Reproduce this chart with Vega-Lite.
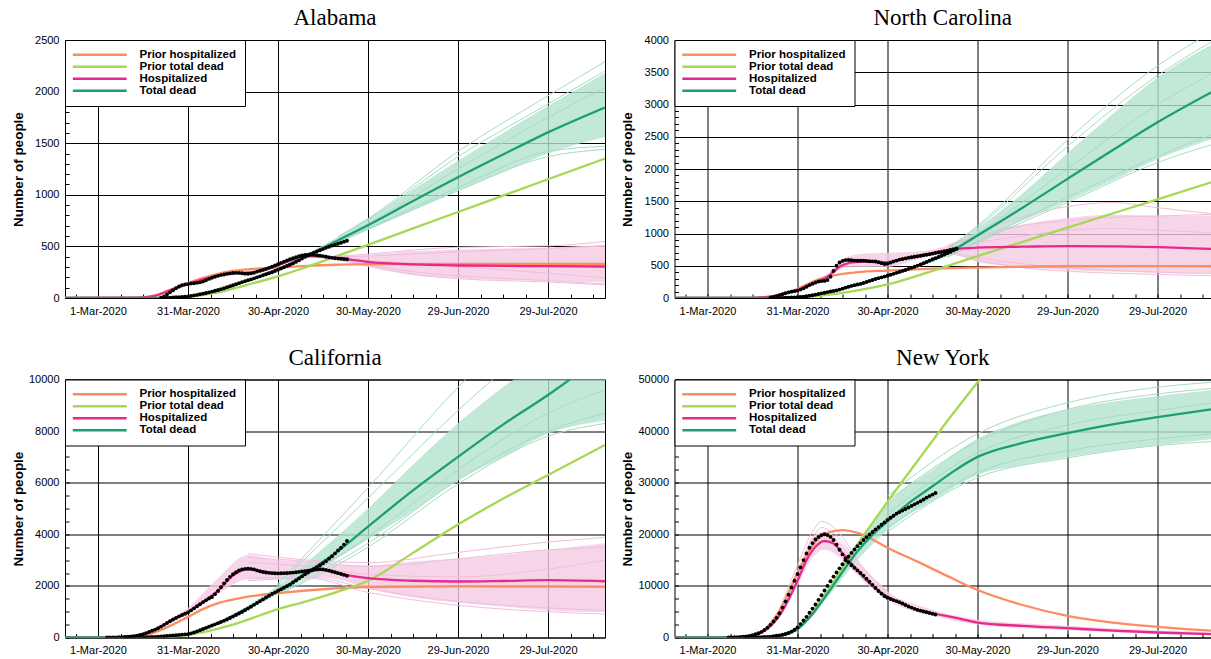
{
"$schema": "https://vega.github.io/schema/vega-lite/v6.json",
"padding": {"left": 10, "top": 6, "right": 0, "bottom": 0},
"columns": 2,
"spacing": {"row": 81.5, "column": 69.5},
"bounds": "flush",
"resolve": {"scale": {"x": "independent", "y": "independent", "color": "independent"}},
"config": {
  "font": "Liberation Sans",
  "view": {"stroke": "black", "strokeWidth": 1},
  "axis": {"domain": false, "grid": true, "gridColor": "black", "gridWidth": 1, "tickColor": "black", "tickSize": -4, "tickWidth": 1, "labelColor": "black", "labelFont": "Liberation Sans", "labelFontSize": 11, "labelPadding": 10, "labelOverlap": false, "labelFlush": false, "titleFont": "Liberation Sans", "titleFontSize": 13.5, "titleFontWeight": "bold", "titleColor": "black"},
  "axisY": {"titleX": -47, "titleY": 129, "titleAlign": "center", "titleBaseline": "middle", "titleAngle": 270},
  "axisX": {"labelPadding": 11},
  "legend": {"orient": "top-left", "offset": 0, "padding": 9, "strokeColor": "black", "fillColor": "white", "cornerRadius": 0, "labelFont": "Liberation Sans", "labelFontSize": 11.5, "labelFontWeight": "bold", "labelColor": "black", "symbolType": "M-10,0H10", "symbolSize": 29, "symbolStrokeWidth": 2.5, "symbolOffset": 20, "labelOffset": 34},
  "title": {"font": "Liberation Serif", "fontSize": 23, "fontWeight": "normal", "color": "black", "offset": 4, "anchor": "middle"}
},
"concat": [
{
  "title": "Alabama",
  "width": 540, "height": 258,
  "encoding": {
    "x": {"field": "d", "type": "temporal", "scale": {"type": "utc", "domain": [1582070400000, 1597622400000]},
      "axis": {"title": null, "values": [1582372800000,1583020800000,1583668800000,1584316800000,1584964800000,1585612800000,1586260800000,1586908800000,1587556800000,1588204800000,1588852800000,1589500800000,1590148800000,1590796800000,1591444800000,1592092800000,1592740800000,1593388800000,1594036800000,1594684800000,1595332800000,1595980800000,1596628800000,1597276800000],
        "labelExpr": "(datum.value - 1583020800000) % 2592000000 == 0 ? utcFormat(datum.value, '%-d-%b-%Y') : ''",
        "gridOpacity": {"condition": {"test": "(datum.value - 1583020800000) % 2592000000 == 0", "value": 1}, "value": 0}}},
    "y": {"field": "v", "type": "quantitative", "scale": {"domain": [0, 2500], "nice": false},
      "axis": {"title": "Number of people", "values": [0,100,200,300,400,500,600,700,800,900,1000,1100,1200,1300,1400,1500,1600,1700,1800,1900,2000,2100,2200,2300,2400,2500],
        "labelExpr": "datum.value % 500 == 0 ? format(datum.value, 'd') : ''",
        "gridOpacity": {"condition": {"test": "datum.value % 500 == 0", "value": 1}, "value": 0}}}
  },
  "layer": [
    {"data": {"name": "alBand"}, "mark": {"type": "area", "clip": true, "interpolate": "monotone", "opacity": 0.8},
     "encoding": {"y2": {"field": "v2"}, "detail": {"field": "g", "type": "nominal"}, "color": {"condition": {"test": "datum.g == 'h'", "value": "#f4cae4"}, "value": "#b3e2cd"}}},
    {"data": {"name": "alSamp"}, "mark": {"type": "line", "clip": true, "interpolate": "monotone", "strokeWidth": 1},
     "encoding": {"detail": [{"field": "g", "type": "nominal"}, {"field": "k", "type": "nominal"}], "color": {"condition": {"test": "datum.g == 'h'", "value": "#f0bedd"}, "value": "#a5dcc3"}}},
    {"data": {"name": "alMean"}, "mark": {"type": "line", "clip": true, "interpolate": "monotone", "strokeWidth": 2.3},
     "encoding": {"color": {"field": "s", "type": "nominal", "scale": {"domain": ["ph", "pd", "h", "m"], "range": ["#fc8d62", "#a6d854", "#e7298a", "#1b9e77"]},
       "legend": {"title": null, "rowPadding": -2, "labelExpr": "datum.value == 'ph' ? 'Prior hospitalized' : datum.value == 'pd' ? 'Prior total dead' : datum.value == 'h' ? 'Hospitalized' : 'Total dead'"}}}},
    {"data": {"name": "alObs"}, "mark": {"type": "point", "filled": true, "color": "black", "size": 15, "opacity": 1, "clip": true}}
  ]
},
{
  "title": "North Carolina",
  "width": 536.5, "height": 258,
  "encoding": {
    "x": {"field": "d", "type": "temporal", "scale": {"type": "utc", "domain": [1582070400000, 1597521600000]},
      "axis": {"title": null, "values": [1582372800000,1583020800000,1583668800000,1584316800000,1584964800000,1585612800000,1586260800000,1586908800000,1587556800000,1588204800000,1588852800000,1589500800000,1590148800000,1590796800000,1591444800000,1592092800000,1592740800000,1593388800000,1594036800000,1594684800000,1595332800000,1595980800000,1596628800000,1597276800000],
        "labelExpr": "(datum.value - 1583020800000) % 2592000000 == 0 ? utcFormat(datum.value, '%-d-%b-%Y') : ''",
        "gridOpacity": {"condition": {"test": "(datum.value - 1583020800000) % 2592000000 == 0", "value": 1}, "value": 0}}},
    "y": {"field": "v", "type": "quantitative", "scale": {"domain": [0, 4000], "nice": false},
      "axis": {"title": "Number of people", "values": [0,100,200,300,400,500,600,700,800,900,1000,1100,1200,1300,1400,1500,1600,1700,1800,1900,2000,2100,2200,2300,2400,2500,2600,2700,2800,2900,3000,3100,3200,3300,3400,3500,3600,3700,3800,3900,4000],
        "labelExpr": "datum.value % 500 == 0 ? format(datum.value, 'd') : ''",
        "gridOpacity": {"condition": {"test": "datum.value % 500 == 0", "value": 1}, "value": 0}}}
  },
  "layer": [
    {"data": {"name": "ncBand"}, "mark": {"type": "area", "clip": true, "interpolate": "monotone", "opacity": 0.8},
     "encoding": {"y2": {"field": "v2"}, "detail": {"field": "g", "type": "nominal"}, "color": {"condition": {"test": "datum.g == 'h'", "value": "#f4cae4"}, "value": "#b3e2cd"}}},
    {"data": {"name": "ncSamp"}, "mark": {"type": "line", "clip": true, "interpolate": "monotone", "strokeWidth": 1},
     "encoding": {"detail": [{"field": "g", "type": "nominal"}, {"field": "k", "type": "nominal"}], "color": {"condition": {"test": "datum.g == 'h'", "value": "#f0bedd"}, "value": "#a5dcc3"}}},
    {"data": {"name": "ncMean"}, "mark": {"type": "line", "clip": true, "interpolate": "monotone", "strokeWidth": 2.3},
     "encoding": {"color": {"field": "s", "type": "nominal", "scale": {"domain": ["ph", "pd", "h", "m"], "range": ["#fc8d62", "#a6d854", "#e7298a", "#1b9e77"]},
       "legend": {"title": null, "rowPadding": -2, "labelExpr": "datum.value == 'ph' ? 'Prior hospitalized' : datum.value == 'pd' ? 'Prior total dead' : datum.value == 'h' ? 'Hospitalized' : 'Total dead'"}}}},
    {"data": {"name": "ncObs"}, "mark": {"type": "point", "filled": true, "color": "black", "size": 15, "opacity": 1, "clip": true}}
  ]
},
{
  "title": "California",
  "width": 540, "height": 258,
  "encoding": {
    "x": {"field": "d", "type": "temporal", "scale": {"type": "utc", "domain": [1582070400000, 1597622400000]},
      "axis": {"title": null, "values": [1582372800000,1583020800000,1583668800000,1584316800000,1584964800000,1585612800000,1586260800000,1586908800000,1587556800000,1588204800000,1588852800000,1589500800000,1590148800000,1590796800000,1591444800000,1592092800000,1592740800000,1593388800000,1594036800000,1594684800000,1595332800000,1595980800000,1596628800000,1597276800000],
        "labelExpr": "(datum.value - 1583020800000) % 2592000000 == 0 ? utcFormat(datum.value, '%-d-%b-%Y') : ''",
        "gridOpacity": {"condition": {"test": "(datum.value - 1583020800000) % 2592000000 == 0", "value": 1}, "value": 0}}},
    "y": {"field": "v", "type": "quantitative", "scale": {"domain": [0, 10000], "nice": false},
      "axis": {"title": "Number of people", "values": [0,500,1000,1500,2000,2500,3000,3500,4000,4500,5000,5500,6000,6500,7000,7500,8000,8500,9000,9500,10000],
        "labelExpr": "datum.value % 2000 == 0 ? format(datum.value, 'd') : ''",
        "gridOpacity": {"condition": {"test": "datum.value % 2000 == 0", "value": 1}, "value": 0}}}
  },
  "layer": [
    {"data": {"name": "caBand"}, "mark": {"type": "area", "clip": true, "interpolate": "monotone", "opacity": 0.8},
     "encoding": {"y2": {"field": "v2"}, "detail": {"field": "g", "type": "nominal"}, "color": {"condition": {"test": "datum.g == 'h'", "value": "#f4cae4"}, "value": "#b3e2cd"}}},
    {"data": {"name": "caSamp"}, "mark": {"type": "line", "clip": true, "interpolate": "monotone", "strokeWidth": 1},
     "encoding": {"detail": [{"field": "g", "type": "nominal"}, {"field": "k", "type": "nominal"}], "color": {"condition": {"test": "datum.g == 'h'", "value": "#f0bedd"}, "value": "#a5dcc3"}}},
    {"data": {"name": "caMean"}, "mark": {"type": "line", "clip": true, "interpolate": "monotone", "strokeWidth": 2.3},
     "encoding": {"color": {"field": "s", "type": "nominal", "scale": {"domain": ["ph", "pd", "h", "m"], "range": ["#fc8d62", "#a6d854", "#e7298a", "#1b9e77"]},
       "legend": {"title": null, "rowPadding": -2, "labelExpr": "datum.value == 'ph' ? 'Prior hospitalized' : datum.value == 'pd' ? 'Prior total dead' : datum.value == 'h' ? 'Hospitalized' : 'Total dead'"}}}},
    {"data": {"name": "caObs"}, "mark": {"type": "point", "filled": true, "color": "black", "size": 15, "opacity": 1, "clip": true}}
  ]
},
{
  "title": "New York",
  "width": 536.5, "height": 258,
  "encoding": {
    "x": {"field": "d", "type": "temporal", "scale": {"type": "utc", "domain": [1582070400000, 1597521600000]},
      "axis": {"title": null, "values": [1582372800000,1583020800000,1583668800000,1584316800000,1584964800000,1585612800000,1586260800000,1586908800000,1587556800000,1588204800000,1588852800000,1589500800000,1590148800000,1590796800000,1591444800000,1592092800000,1592740800000,1593388800000,1594036800000,1594684800000,1595332800000,1595980800000,1596628800000,1597276800000],
        "labelExpr": "(datum.value - 1583020800000) % 2592000000 == 0 ? utcFormat(datum.value, '%-d-%b-%Y') : ''",
        "gridOpacity": {"condition": {"test": "(datum.value - 1583020800000) % 2592000000 == 0", "value": 1}, "value": 0}}},
    "y": {"field": "v", "type": "quantitative", "scale": {"domain": [0, 50000], "nice": false},
      "axis": {"title": "Number of people", "values": [0,2500,5000,7500,10000,12500,15000,17500,20000,22500,25000,27500,30000,32500,35000,37500,40000,42500,45000,47500,50000],
        "labelExpr": "datum.value % 10000 == 0 ? format(datum.value, 'd') : ''",
        "gridOpacity": {"condition": {"test": "datum.value % 10000 == 0", "value": 1}, "value": 0}}}
  },
  "layer": [
    {"data": {"name": "nyBand"}, "mark": {"type": "area", "clip": true, "interpolate": "monotone", "opacity": 0.8},
     "encoding": {"y2": {"field": "v2"}, "detail": {"field": "g", "type": "nominal"}, "color": {"condition": {"test": "datum.g == 'h'", "value": "#f4cae4"}, "value": "#b3e2cd"}}},
    {"data": {"name": "nySamp"}, "mark": {"type": "line", "clip": true, "interpolate": "monotone", "strokeWidth": 1},
     "encoding": {"detail": [{"field": "g", "type": "nominal"}, {"field": "k", "type": "nominal"}], "color": {"condition": {"test": "datum.g == 'h'", "value": "#f0bedd"}, "value": "#a5dcc3"}}},
    {"data": {"name": "nyMean"}, "mark": {"type": "line", "clip": true, "interpolate": "monotone", "strokeWidth": 2.3},
     "encoding": {"color": {"field": "s", "type": "nominal", "scale": {"domain": ["ph", "pd", "h", "m"], "range": ["#fc8d62", "#a6d854", "#e7298a", "#1b9e77"]},
       "legend": {"title": null, "rowPadding": -2, "labelExpr": "datum.value == 'ph' ? 'Prior hospitalized' : datum.value == 'pd' ? 'Prior total dead' : datum.value == 'h' ? 'Hospitalized' : 'Total dead'"}}}},
    {"data": {"name": "nyObs"}, "mark": {"type": "point", "filled": true, "color": "black", "size": 15, "opacity": 1, "clip": true}}
  ]
}
],
"datasets": {
"alMean": [
{"s":"ph","d":"2020-02-19","v":0},{"s":"ph","d":"2020-03-10","v":0},{"s":"ph","d":"2020-03-15","v":5},{"s":"ph","d":"2020-03-20","v":25},{"s":"ph","d":"2020-03-25","v":80},{"s":"ph","d":"2020-03-31","v":145},{"s":"ph","d":"2020-04-05","v":195},{"s":"ph","d":"2020-04-10","v":235},{"s":"ph","d":"2020-04-15","v":262},{"s":"ph","d":"2020-04-20","v":278},{"s":"ph","d":"2020-04-30","v":296},{"s":"ph","d":"2020-05-10","v":312},{"s":"ph","d":"2020-05-20","v":322},{"s":"ph","d":"2020-05-30","v":328},{"s":"ph","d":"2020-06-29","v":330},{"s":"ph","d":"2020-07-29","v":330},{"s":"ph","d":"2020-08-17","v":330},
{"s":"pd","d":"2020-02-19","v":0},{"s":"pd","d":"2020-03-20","v":0},{"s":"pd","d":"2020-03-25","v":4},{"s":"pd","d":"2020-03-31","v":12},{"s":"pd","d":"2020-04-10","v":55},{"s":"pd","d":"2020-04-20","v":130},{"s":"pd","d":"2020-04-30","v":210},{"s":"pd","d":"2020-05-10","v":305},{"s":"pd","d":"2020-05-20","v":410},{"s":"pd","d":"2020-05-30","v":515},{"s":"pd","d":"2020-06-14","v":674},{"s":"pd","d":"2020-06-29","v":833},{"s":"pd","d":"2020-07-14","v":992},{"s":"pd","d":"2020-07-29","v":1151},{"s":"pd","d":"2020-08-17","v":1352},
{"s":"h","d":"2020-02-19","v":0},{"s":"h","d":"2020-03-15","v":3},{"s":"h","d":"2020-03-20","v":20},{"s":"h","d":"2020-03-25","v":75},{"s":"h","d":"2020-03-31","v":135},{"s":"h","d":"2020-04-05","v":180},{"s":"h","d":"2020-04-10","v":220},{"s":"h","d":"2020-04-15","v":242},{"s":"h","d":"2020-04-20","v":245},{"s":"h","d":"2020-04-25","v":268},{"s":"h","d":"2020-04-30","v":318},{"s":"h","d":"2020-05-05","v":372},{"s":"h","d":"2020-05-10","v":405},{"s":"h","d":"2020-05-15","v":402},{"s":"h","d":"2020-05-20","v":388},{"s":"h","d":"2020-05-25","v":368},{"s":"h","d":"2020-05-30","v":350},{"s":"h","d":"2020-06-14","v":325},{"s":"h","d":"2020-06-29","v":315},{"s":"h","d":"2020-07-29","v":308},{"s":"h","d":"2020-08-17","v":305},
{"s":"m","d":"2020-02-19","v":0},{"s":"m","d":"2020-03-20","v":0},{"s":"m","d":"2020-03-25","v":3},{"s":"m","d":"2020-03-31","v":15},{"s":"m","d":"2020-04-10","v":72},{"s":"m","d":"2020-04-20","v":170},{"s":"m","d":"2020-04-30","v":278},{"s":"m","d":"2020-05-10","v":415},{"s":"m","d":"2020-05-20","v":560},{"s":"m","d":"2020-05-30","v":705},{"s":"m","d":"2020-06-14","v":940},{"s":"m","d":"2020-06-29","v":1170},{"s":"m","d":"2020-07-14","v":1390},{"s":"m","d":"2020-07-29","v":1605},{"s":"m","d":"2020-08-17","v":1846}
],
"alBand": [
{"g":"h","d":"2020-03-20","v":15,"v2":28},{"g":"h","d":"2020-03-31","v":122,"v2":150},{"g":"h","d":"2020-04-10","v":208,"v2":235},{"g":"h","d":"2020-04-20","v":232,"v2":262},{"g":"h","d":"2020-04-30","v":305,"v2":335},{"g":"h","d":"2020-05-10","v":390,"v2":425},{"g":"h","d":"2020-05-20","v":368,"v2":408},{"g":"h","d":"2020-05-30","v":300,"v2":420},{"g":"h","d":"2020-06-14","v":220,"v2":455},{"g":"h","d":"2020-06-29","v":190,"v2":470},{"g":"h","d":"2020-07-29","v":165,"v2":490},{"g":"h","d":"2020-08-17","v":150,"v2":515},
{"g":"m","d":"2020-03-31","v":13,"v2":17},{"g":"m","d":"2020-04-10","v":68,"v2":76},{"g":"m","d":"2020-04-20","v":162,"v2":178},{"g":"m","d":"2020-04-30","v":268,"v2":292},{"g":"m","d":"2020-05-10","v":400,"v2":435},{"g":"m","d":"2020-05-20","v":535,"v2":590},{"g":"m","d":"2020-05-30","v":660,"v2":760},{"g":"m","d":"2020-06-14","v":850,"v2":1050},{"g":"m","d":"2020-06-29","v":1040,"v2":1330},{"g":"m","d":"2020-07-14","v":1220,"v2":1600},{"g":"m","d":"2020-07-29","v":1400,"v2":1860},{"g":"m","d":"2020-08-17","v":1560,"v2":2180}
],
"alSamp": [
{"g":"h","k":1,"d":"2020-05-20","v":405},{"g":"h","k":1,"d":"2020-05-30","v":425},{"g":"h","k":1,"d":"2020-06-14","v":465},{"g":"h","k":1,"d":"2020-06-29","v":492},{"g":"h","k":1,"d":"2020-07-29","v":505},{"g":"h","k":1,"d":"2020-08-17","v":548},
{"g":"h","k":2,"d":"2020-05-20","v":398},{"g":"h","k":2,"d":"2020-05-30","v":405},{"g":"h","k":2,"d":"2020-06-14","v":428},{"g":"h","k":2,"d":"2020-06-29","v":448},{"g":"h","k":2,"d":"2020-07-29","v":478},{"g":"h","k":2,"d":"2020-08-17","v":505},
{"g":"h","k":3,"d":"2020-05-20","v":372},{"g":"h","k":3,"d":"2020-05-30","v":325},{"g":"h","k":3,"d":"2020-06-14","v":255},{"g":"h","k":3,"d":"2020-06-29","v":215},{"g":"h","k":3,"d":"2020-07-29","v":168},{"g":"h","k":3,"d":"2020-08-17","v":135},
{"g":"h","k":4,"d":"2020-05-20","v":368},{"g":"h","k":4,"d":"2020-05-30","v":312},{"g":"h","k":4,"d":"2020-06-14","v":232},{"g":"h","k":4,"d":"2020-06-29","v":188},{"g":"h","k":4,"d":"2020-07-29","v":155},{"g":"h","k":4,"d":"2020-08-17","v":128},
{"g":"h","k":5,"d":"2020-05-20","v":385},{"g":"h","k":5,"d":"2020-05-30","v":365},{"g":"h","k":5,"d":"2020-06-14","v":335},{"g":"h","k":5,"d":"2020-06-29","v":305},{"g":"h","k":5,"d":"2020-07-29","v":240},{"g":"h","k":5,"d":"2020-08-17","v":195},
{"g":"m","k":1,"d":"2020-05-20","v":595},{"g":"m","k":1,"d":"2020-05-30","v":770},{"g":"m","k":1,"d":"2020-06-29","v":1420},{"g":"m","k":1,"d":"2020-07-29","v":1960},{"g":"m","k":1,"d":"2020-08-17","v":2290},
{"g":"m","k":2,"d":"2020-05-20","v":590},{"g":"m","k":2,"d":"2020-05-30","v":760},{"g":"m","k":2,"d":"2020-06-29","v":1370},{"g":"m","k":2,"d":"2020-07-29","v":1880},{"g":"m","k":2,"d":"2020-08-17","v":2200},
{"g":"m","k":3,"d":"2020-05-20","v":540},{"g":"m","k":3,"d":"2020-05-30","v":665},{"g":"m","k":3,"d":"2020-06-29","v":1040},{"g":"m","k":3,"d":"2020-07-29","v":1370},{"g":"m","k":3,"d":"2020-08-17","v":1440},
{"g":"m","k":4,"d":"2020-05-20","v":545},{"g":"m","k":4,"d":"2020-05-30","v":675},{"g":"m","k":4,"d":"2020-06-29","v":1070},{"g":"m","k":4,"d":"2020-07-29","v":1420},{"g":"m","k":4,"d":"2020-08-17","v":1470},
{"g":"m","k":5,"d":"2020-05-20","v":570},{"g":"m","k":5,"d":"2020-05-30","v":720},{"g":"m","k":5,"d":"2020-06-29","v":1250},{"g":"m","k":5,"d":"2020-07-29","v":1750},{"g":"m","k":5,"d":"2020-08-17","v":2040}
],
"alObs": [
{"d":"2020-03-22","v":2},{"d":"2020-03-23","v":15},{"d":"2020-03-24","v":35},{"d":"2020-03-25","v":55},{"d":"2020-03-26","v":75},{"d":"2020-03-27","v":95},{"d":"2020-03-28","v":112},{"d":"2020-03-29","v":125},{"d":"2020-03-30","v":132},{"d":"2020-03-31","v":135},
{"d":"2020-04-01","v":140},{"d":"2020-04-02","v":143},{"d":"2020-04-03","v":147},{"d":"2020-04-04","v":152},{"d":"2020-04-05","v":160},{"d":"2020-04-06","v":172},{"d":"2020-04-07","v":185},{"d":"2020-04-08","v":196},{"d":"2020-04-09","v":206},{"d":"2020-04-10","v":215},{"d":"2020-04-11","v":222},{"d":"2020-04-12","v":228},{"d":"2020-04-13","v":234},{"d":"2020-04-14","v":238},{"d":"2020-04-15","v":242},{"d":"2020-04-16","v":244},{"d":"2020-04-17","v":243},{"d":"2020-04-18","v":240},{"d":"2020-04-19","v":236},{"d":"2020-04-20","v":235},{"d":"2020-04-21","v":238},{"d":"2020-04-22","v":245},{"d":"2020-04-23","v":255},{"d":"2020-04-24","v":264},{"d":"2020-04-25","v":272},{"d":"2020-04-26","v":282},{"d":"2020-04-27","v":292},{"d":"2020-04-28","v":303},{"d":"2020-04-29","v":315},{"d":"2020-04-30","v":327},
{"d":"2020-05-01","v":340},{"d":"2020-05-02","v":352},{"d":"2020-05-03","v":364},{"d":"2020-05-04","v":375},{"d":"2020-05-05","v":385},{"d":"2020-05-06","v":395},{"d":"2020-05-07","v":405},{"d":"2020-05-08","v":412},{"d":"2020-05-09","v":417},{"d":"2020-05-10","v":420},{"d":"2020-05-11","v":420},{"d":"2020-05-12","v":418},{"d":"2020-05-13","v":414},{"d":"2020-05-14","v":410},{"d":"2020-05-15","v":406},{"d":"2020-05-16","v":400},{"d":"2020-05-17","v":394},{"d":"2020-05-18","v":389},{"d":"2020-05-19","v":385},{"d":"2020-05-20","v":382},{"d":"2020-05-21","v":380},{"d":"2020-05-22","v":378},{"d":"2020-05-23","v":376},
{"d":"2020-03-24","v":1},{"d":"2020-03-25","v":3},{"d":"2020-03-26","v":5},{"d":"2020-03-27","v":7},{"d":"2020-03-28","v":9},{"d":"2020-03-29","v":11},{"d":"2020-03-30","v":13},{"d":"2020-03-31","v":16},
{"d":"2020-04-01","v":20},{"d":"2020-04-02","v":25},{"d":"2020-04-03","v":30},{"d":"2020-04-04","v":36},{"d":"2020-04-05","v":42},{"d":"2020-04-06","v":48},{"d":"2020-04-07","v":55},{"d":"2020-04-08","v":62},{"d":"2020-04-09","v":70},{"d":"2020-04-10","v":78},{"d":"2020-04-11","v":86},{"d":"2020-04-12","v":94},{"d":"2020-04-13","v":104},{"d":"2020-04-14","v":114},{"d":"2020-04-15","v":124},{"d":"2020-04-16","v":134},{"d":"2020-04-17","v":144},{"d":"2020-04-18","v":154},{"d":"2020-04-19","v":163},{"d":"2020-04-20","v":172},{"d":"2020-04-21","v":180},{"d":"2020-04-22","v":190},{"d":"2020-04-23","v":200},{"d":"2020-04-24","v":210},{"d":"2020-04-25","v":220},{"d":"2020-04-26","v":230},{"d":"2020-04-27","v":240},{"d":"2020-04-28","v":250},{"d":"2020-04-29","v":262},{"d":"2020-04-30","v":274},
{"d":"2020-05-01","v":286},{"d":"2020-05-02","v":298},{"d":"2020-05-03","v":310},{"d":"2020-05-04","v":322},{"d":"2020-05-05","v":335},{"d":"2020-05-06","v":350},{"d":"2020-05-07","v":365},{"d":"2020-05-08","v":382},{"d":"2020-05-09","v":398},{"d":"2020-05-10","v":412},{"d":"2020-05-11","v":426},{"d":"2020-05-12","v":440},{"d":"2020-05-13","v":452},{"d":"2020-05-14","v":463},{"d":"2020-05-15","v":474},{"d":"2020-05-16","v":486},{"d":"2020-05-17","v":497},{"d":"2020-05-18","v":507},{"d":"2020-05-19","v":517},{"d":"2020-05-20","v":526},{"d":"2020-05-21","v":535},{"d":"2020-05-22","v":545},{"d":"2020-05-23","v":555}
],
"ncMean": [
{"s":"ph","d":"2020-02-19","v":0},{"s":"ph","d":"2020-03-15","v":0},{"s":"ph","d":"2020-03-20","v":10},{"s":"ph","d":"2020-03-25","v":50},{"s":"ph","d":"2020-03-31","v":140},{"s":"ph","d":"2020-04-05","v":250},{"s":"ph","d":"2020-04-10","v":330},{"s":"ph","d":"2020-04-15","v":375},{"s":"ph","d":"2020-04-20","v":400},{"s":"ph","d":"2020-04-30","v":425},{"s":"ph","d":"2020-05-15","v":455},{"s":"ph","d":"2020-05-30","v":472},{"s":"ph","d":"2020-06-29","v":492},{"s":"ph","d":"2020-07-29","v":495},{"s":"ph","d":"2020-08-17","v":492},
{"s":"pd","d":"2020-02-19","v":0},{"s":"pd","d":"2020-03-20","v":0},{"s":"pd","d":"2020-03-31","v":10},{"s":"pd","d":"2020-04-10","v":50},{"s":"pd","d":"2020-04-20","v":120},{"s":"pd","d":"2020-04-30","v":210},{"s":"pd","d":"2020-05-15","v":420},{"s":"pd","d":"2020-05-30","v":650},{"s":"pd","d":"2020-06-14","v":870},{"s":"pd","d":"2020-06-29","v":1090},{"s":"pd","d":"2020-07-14","v":1310},{"s":"pd","d":"2020-07-29","v":1530},{"s":"pd","d":"2020-08-17","v":1810},
{"s":"h","d":"2020-02-19","v":0},{"s":"h","d":"2020-03-15","v":2},{"s":"h","d":"2020-03-20","v":12},{"s":"h","d":"2020-03-25","v":50},{"s":"h","d":"2020-03-31","v":125},{"s":"h","d":"2020-04-05","v":220},{"s":"h","d":"2020-04-10","v":330},{"s":"h","d":"2020-04-15","v":510},{"s":"h","d":"2020-04-20","v":560},{"s":"h","d":"2020-04-25","v":562},{"s":"h","d":"2020-04-30","v":555},{"s":"h","d":"2020-05-05","v":600},{"s":"h","d":"2020-05-10","v":645},{"s":"h","d":"2020-05-15","v":700},{"s":"h","d":"2020-05-20","v":745},{"s":"h","d":"2020-05-25","v":770},{"s":"h","d":"2020-05-30","v":782},{"s":"h","d":"2020-06-14","v":795},{"s":"h","d":"2020-06-29","v":805},{"s":"h","d":"2020-07-14","v":800},{"s":"h","d":"2020-07-29","v":790},{"s":"h","d":"2020-08-17","v":760},
{"s":"m","d":"2020-02-19","v":0},{"s":"m","d":"2020-03-20","v":0},{"s":"m","d":"2020-03-25","v":2},{"s":"m","d":"2020-03-31","v":12},{"s":"m","d":"2020-04-10","v":85},{"s":"m","d":"2020-04-20","v":205},{"s":"m","d":"2020-04-30","v":345},{"s":"m","d":"2020-05-10","v":495},{"s":"m","d":"2020-05-20","v":690},{"s":"m","d":"2020-05-30","v":970},{"s":"m","d":"2020-06-14","v":1400},{"s":"m","d":"2020-06-29","v":1847},{"s":"m","d":"2020-07-14","v":2290},{"s":"m","d":"2020-07-29","v":2724},{"s":"m","d":"2020-08-17","v":3215}
],
"ncBand": [
{"g":"h","d":"2020-03-20","v":8,"v2":18},{"g":"h","d":"2020-03-31","v":110,"v2":150},{"g":"h","d":"2020-04-10","v":290,"v2":380},{"g":"h","d":"2020-04-15","v":460,"v2":600},{"g":"h","d":"2020-04-20","v":480,"v2":680},{"g":"h","d":"2020-04-30","v":480,"v2":700},{"g":"h","d":"2020-05-10","v":600,"v2":720},{"g":"h","d":"2020-05-20","v":700,"v2":810},{"g":"h","d":"2020-05-30","v":560,"v2":1000},{"g":"h","d":"2020-06-14","v":480,"v2":1140},{"g":"h","d":"2020-06-29","v":430,"v2":1240},{"g":"h","d":"2020-07-14","v":410,"v2":1290},{"g":"h","d":"2020-07-29","v":390,"v2":1280},{"g":"h","d":"2020-08-17","v":370,"v2":1280},
{"g":"m","d":"2020-03-31","v":10,"v2":14},{"g":"m","d":"2020-04-10","v":80,"v2":92},{"g":"m","d":"2020-04-20","v":195,"v2":218},{"g":"m","d":"2020-04-30","v":330,"v2":362},{"g":"m","d":"2020-05-10","v":475,"v2":520},{"g":"m","d":"2020-05-20","v":650,"v2":740},{"g":"m","d":"2020-05-30","v":880,"v2":1080},{"g":"m","d":"2020-06-14","v":1200,"v2":1620},{"g":"m","d":"2020-06-29","v":1500,"v2":2250},{"g":"m","d":"2020-07-14","v":1820,"v2":2850},{"g":"m","d":"2020-07-29","v":2150,"v2":3420},{"g":"m","d":"2020-08-17","v":2480,"v2":3950}
],
"ncSamp": [
{"g":"h","k":1,"d":"2020-05-20","v":815},{"g":"h","k":1,"d":"2020-05-30","v":1000},{"g":"h","k":1,"d":"2020-06-14","v":1260},{"g":"h","k":1,"d":"2020-06-29","v":1420},{"g":"h","k":1,"d":"2020-07-14","v":1480},{"g":"h","k":1,"d":"2020-07-29","v":1400},{"g":"h","k":1,"d":"2020-08-17","v":1300},
{"g":"h","k":2,"d":"2020-05-20","v":805},{"g":"h","k":2,"d":"2020-05-30","v":960},{"g":"h","k":2,"d":"2020-06-14","v":1120},{"g":"h","k":2,"d":"2020-06-29","v":1200},{"g":"h","k":2,"d":"2020-07-14","v":1250},{"g":"h","k":2,"d":"2020-07-29","v":1270},{"g":"h","k":2,"d":"2020-08-17","v":1300},
{"g":"h","k":3,"d":"2020-05-20","v":705},{"g":"h","k":3,"d":"2020-05-30","v":590},{"g":"h","k":3,"d":"2020-06-14","v":470},{"g":"h","k":3,"d":"2020-06-29","v":415},{"g":"h","k":3,"d":"2020-07-14","v":385},{"g":"h","k":3,"d":"2020-07-29","v":365},{"g":"h","k":3,"d":"2020-08-17","v":345},
{"g":"h","k":4,"d":"2020-05-20","v":712},{"g":"h","k":4,"d":"2020-05-30","v":630},{"g":"h","k":4,"d":"2020-06-14","v":530},{"g":"h","k":4,"d":"2020-06-29","v":465},{"g":"h","k":4,"d":"2020-07-14","v":430},{"g":"h","k":4,"d":"2020-07-29","v":400},{"g":"h","k":4,"d":"2020-08-17","v":380},
{"g":"h","k":5,"d":"2020-05-20","v":770},{"g":"h","k":5,"d":"2020-05-30","v":860},{"g":"h","k":5,"d":"2020-06-14","v":960},{"g":"h","k":5,"d":"2020-06-29","v":1050},{"g":"h","k":5,"d":"2020-07-14","v":1080},{"g":"h","k":5,"d":"2020-07-29","v":1050},{"g":"h","k":5,"d":"2020-08-17","v":1010},
{"g":"m","k":1,"d":"2020-05-20","v":760},{"g":"m","k":1,"d":"2020-05-30","v":1120},{"g":"m","k":1,"d":"2020-06-29","v":2450},{"g":"m","k":1,"d":"2020-07-29","v":3600},{"g":"m","k":1,"d":"2020-08-17","v":4150},
{"g":"m","k":2,"d":"2020-05-20","v":750},{"g":"m","k":2,"d":"2020-05-30","v":1095},{"g":"m","k":2,"d":"2020-06-29","v":2350},{"g":"m","k":2,"d":"2020-07-29","v":3450},{"g":"m","k":2,"d":"2020-08-17","v":4000},
{"g":"m","k":3,"d":"2020-05-20","v":632},{"g":"m","k":3,"d":"2020-05-30","v":860},{"g":"m","k":3,"d":"2020-06-29","v":1480},{"g":"m","k":3,"d":"2020-07-29","v":2100},{"g":"m","k":3,"d":"2020-08-17","v":2390},
{"g":"m","k":4,"d":"2020-05-20","v":640},{"g":"m","k":4,"d":"2020-05-30","v":875},{"g":"m","k":4,"d":"2020-06-29","v":1560},{"g":"m","k":4,"d":"2020-07-29","v":2200},{"g":"m","k":4,"d":"2020-08-17","v":2550},
{"g":"m","k":5,"d":"2020-05-20","v":720},{"g":"m","k":5,"d":"2020-05-30","v":1000},{"g":"m","k":5,"d":"2020-06-29","v":2000},{"g":"m","k":5,"d":"2020-07-29","v":3000},{"g":"m","k":5,"d":"2020-08-17","v":3500}
],
"ncObs": [
{"d":"2020-03-22","v":5},{"d":"2020-03-23","v":15},{"d":"2020-03-24","v":30},{"d":"2020-03-25","v":45},{"d":"2020-03-26","v":60},{"d":"2020-03-27","v":75},{"d":"2020-03-28","v":88},{"d":"2020-03-29","v":98},{"d":"2020-03-30","v":106},{"d":"2020-03-31","v":115},
{"d":"2020-04-01","v":130},{"d":"2020-04-02","v":150},{"d":"2020-04-03","v":175},{"d":"2020-04-04","v":200},{"d":"2020-04-05","v":220},{"d":"2020-04-06","v":240},{"d":"2020-04-07","v":255},{"d":"2020-04-08","v":262},{"d":"2020-04-09","v":265},{"d":"2020-04-10","v":280},{"d":"2020-04-11","v":330},{"d":"2020-04-12","v":420},{"d":"2020-04-13","v":500},{"d":"2020-04-14","v":550},{"d":"2020-04-15","v":575},{"d":"2020-04-16","v":588},{"d":"2020-04-17","v":590},{"d":"2020-04-18","v":585},{"d":"2020-04-19","v":580},{"d":"2020-04-20","v":578},{"d":"2020-04-21","v":577},{"d":"2020-04-22","v":580},{"d":"2020-04-23","v":575},{"d":"2020-04-24","v":570},{"d":"2020-04-25","v":568},{"d":"2020-04-26","v":566},{"d":"2020-04-27","v":555},{"d":"2020-04-28","v":540},{"d":"2020-04-29","v":528},{"d":"2020-04-30","v":530},
{"d":"2020-05-01","v":548},{"d":"2020-05-02","v":565},{"d":"2020-05-03","v":580},{"d":"2020-05-04","v":595},{"d":"2020-05-05","v":605},{"d":"2020-05-06","v":615},{"d":"2020-05-07","v":625},{"d":"2020-05-08","v":632},{"d":"2020-05-09","v":640},{"d":"2020-05-10","v":648},{"d":"2020-05-11","v":655},{"d":"2020-05-12","v":662},{"d":"2020-05-13","v":670},{"d":"2020-05-14","v":678},{"d":"2020-05-15","v":688},{"d":"2020-05-16","v":698},{"d":"2020-05-17","v":705},{"d":"2020-05-18","v":712},{"d":"2020-05-19","v":720},{"d":"2020-05-20","v":730},{"d":"2020-05-21","v":745},{"d":"2020-05-22","v":758},{"d":"2020-05-23","v":770},
{"d":"2020-03-25","v":1},{"d":"2020-03-26","v":2},{"d":"2020-03-27","v":4},{"d":"2020-03-28","v":6},{"d":"2020-03-29","v":8},{"d":"2020-03-30","v":10},{"d":"2020-03-31","v":12},
{"d":"2020-04-01","v":16},{"d":"2020-04-02","v":22},{"d":"2020-04-03","v":28},{"d":"2020-04-04","v":35},{"d":"2020-04-05","v":42},{"d":"2020-04-06","v":52},{"d":"2020-04-07","v":62},{"d":"2020-04-08","v":72},{"d":"2020-04-09","v":82},{"d":"2020-04-10","v":92},{"d":"2020-04-11","v":100},{"d":"2020-04-12","v":108},{"d":"2020-04-13","v":118},{"d":"2020-04-14","v":130},{"d":"2020-04-15","v":145},{"d":"2020-04-16","v":160},{"d":"2020-04-17","v":175},{"d":"2020-04-18","v":188},{"d":"2020-04-19","v":200},{"d":"2020-04-20","v":210},{"d":"2020-04-21","v":218},{"d":"2020-04-22","v":232},{"d":"2020-04-23","v":248},{"d":"2020-04-24","v":265},{"d":"2020-04-25","v":280},{"d":"2020-04-26","v":295},{"d":"2020-04-27","v":308},{"d":"2020-04-28","v":320},{"d":"2020-04-29","v":332},{"d":"2020-04-30","v":345},
{"d":"2020-05-01","v":360},{"d":"2020-05-02","v":375},{"d":"2020-05-03","v":390},{"d":"2020-05-04","v":405},{"d":"2020-05-05","v":420},{"d":"2020-05-06","v":435},{"d":"2020-05-07","v":452},{"d":"2020-05-08","v":468},{"d":"2020-05-09","v":485},{"d":"2020-05-10","v":502},{"d":"2020-05-11","v":520},{"d":"2020-05-12","v":540},{"d":"2020-05-13","v":560},{"d":"2020-05-14","v":580},{"d":"2020-05-15","v":600},{"d":"2020-05-16","v":618},{"d":"2020-05-17","v":636},{"d":"2020-05-18","v":655},{"d":"2020-05-19","v":675},{"d":"2020-05-20","v":695},{"d":"2020-05-21","v":715},{"d":"2020-05-22","v":738},{"d":"2020-05-23","v":760}
],
"caMean": [
{"s":"ph","d":"2020-02-19","v":0},{"s":"ph","d":"2020-03-10","v":0},{"s":"ph","d":"2020-03-15","v":50},{"s":"ph","d":"2020-03-20","v":200},{"s":"ph","d":"2020-03-25","v":450},{"s":"ph","d":"2020-03-31","v":800},{"s":"ph","d":"2020-04-05","v":1100},{"s":"ph","d":"2020-04-10","v":1330},{"s":"ph","d":"2020-04-20","v":1580},{"s":"ph","d":"2020-04-30","v":1720},{"s":"ph","d":"2020-05-15","v":1870},{"s":"ph","d":"2020-05-30","v":1950},{"s":"ph","d":"2020-06-29","v":1980},{"s":"ph","d":"2020-07-29","v":1975},{"s":"ph","d":"2020-08-17","v":1960},
{"s":"pd","d":"2020-02-19","v":0},{"s":"pd","d":"2020-03-20","v":0},{"s":"pd","d":"2020-03-31","v":100},{"s":"pd","d":"2020-04-15","v":500},{"s":"pd","d":"2020-04-30","v":1100},{"s":"pd","d":"2020-05-10","v":1420},{"s":"pd","d":"2020-05-20","v":1780},{"s":"pd","d":"2020-05-30","v":2200},{"s":"pd","d":"2020-06-14","v":3280},{"s":"pd","d":"2020-06-29","v":4380},{"s":"pd","d":"2020-07-14","v":5380},{"s":"pd","d":"2020-07-29","v":6300},{"s":"pd","d":"2020-08-17","v":7460},
{"s":"h","d":"2020-02-19","v":0},{"s":"h","d":"2020-03-05","v":0},{"s":"h","d":"2020-03-10","v":20},{"s":"h","d":"2020-03-15","v":100},{"s":"h","d":"2020-03-20","v":300},{"s":"h","d":"2020-03-25","v":640},{"s":"h","d":"2020-03-31","v":990},{"s":"h","d":"2020-04-05","v":1380},{"s":"h","d":"2020-04-10","v":1820},{"s":"h","d":"2020-04-15","v":2400},{"s":"h","d":"2020-04-20","v":2650},{"s":"h","d":"2020-04-25","v":2560},{"s":"h","d":"2020-04-30","v":2490},{"s":"h","d":"2020-05-05","v":2510},{"s":"h","d":"2020-05-10","v":2590},{"s":"h","d":"2020-05-15","v":2620},{"s":"h","d":"2020-05-20","v":2500},{"s":"h","d":"2020-05-25","v":2380},{"s":"h","d":"2020-05-30","v":2300},{"s":"h","d":"2020-06-14","v":2200},{"s":"h","d":"2020-06-29","v":2170},{"s":"h","d":"2020-07-14","v":2190},{"s":"h","d":"2020-07-29","v":2220},{"s":"h","d":"2020-08-17","v":2180},
{"s":"m","d":"2020-02-19","v":0},{"s":"m","d":"2020-03-15","v":5},{"s":"m","d":"2020-03-20","v":25},{"s":"m","d":"2020-03-25","v":65},{"s":"m","d":"2020-03-31","v":135},{"s":"m","d":"2020-04-10","v":560},{"s":"m","d":"2020-04-20","v":1150},{"s":"m","d":"2020-04-30","v":1800},{"s":"m","d":"2020-05-10","v":2550},{"s":"m","d":"2020-05-20","v":3350},{"s":"m","d":"2020-05-30","v":4300},{"s":"m","d":"2020-06-14","v":5700},{"s":"m","d":"2020-06-29","v":7000},{"s":"m","d":"2020-07-14","v":8250},{"s":"m","d":"2020-07-29","v":9400},{"s":"m","d":"2020-08-17","v":11000}
],
"caBand": [
{"g":"h","d":"2020-03-20","v":280,"v2":340},{"g":"h","d":"2020-03-31","v":900,"v2":1150},{"g":"h","d":"2020-04-10","v":1700,"v2":2300},{"g":"h","d":"2020-04-20","v":2250,"v2":3200},{"g":"h","d":"2020-04-30","v":2250,"v2":3000},{"g":"h","d":"2020-05-10","v":2350,"v2":2950},{"g":"h","d":"2020-05-20","v":2250,"v2":2850},{"g":"h","d":"2020-05-30","v":1900,"v2":2800},{"g":"h","d":"2020-06-14","v":1550,"v2":2950},{"g":"h","d":"2020-06-29","v":1350,"v2":3050},{"g":"h","d":"2020-07-14","v":1200,"v2":3200},{"g":"h","d":"2020-07-29","v":1050,"v2":3400},{"g":"h","d":"2020-08-17","v":980,"v2":3650},
{"g":"m","d":"2020-03-31","v":120,"v2":150},{"g":"m","d":"2020-04-10","v":520,"v2":600},{"g":"m","d":"2020-04-20","v":1080,"v2":1250},{"g":"m","d":"2020-04-30","v":1680,"v2":2020},{"g":"m","d":"2020-05-10","v":2380,"v2":2950},{"g":"m","d":"2020-05-20","v":3080,"v2":3950},{"g":"m","d":"2020-05-30","v":3800,"v2":5000},{"g":"m","d":"2020-06-14","v":4900,"v2":6700},{"g":"m","d":"2020-06-29","v":6100,"v2":8300},{"g":"m","d":"2020-07-14","v":7000,"v2":9700},{"g":"m","d":"2020-07-29","v":7900,"v2":10900},{"g":"m","d":"2020-08-17","v":8400,"v2":12200}
],
"caSamp": [
{"g":"h","k":1,"d":"2020-04-20","v":3250},{"g":"h","k":1,"d":"2020-05-10","v":3000},{"g":"h","k":1,"d":"2020-05-30","v":2900},{"g":"h","k":1,"d":"2020-06-29","v":3300},{"g":"h","k":1,"d":"2020-07-29","v":3700},{"g":"h","k":1,"d":"2020-08-17","v":3880},
{"g":"h","k":2,"d":"2020-04-20","v":3100},{"g":"h","k":2,"d":"2020-05-10","v":2950},{"g":"h","k":2,"d":"2020-05-30","v":2750},{"g":"h","k":2,"d":"2020-06-29","v":3050},{"g":"h","k":2,"d":"2020-07-29","v":3400},{"g":"h","k":2,"d":"2020-08-17","v":3500},
{"g":"h","k":3,"d":"2020-04-20","v":2200},{"g":"h","k":3,"d":"2020-05-10","v":2300},{"g":"h","k":3,"d":"2020-05-30","v":1750},{"g":"h","k":3,"d":"2020-06-29","v":1250},{"g":"h","k":3,"d":"2020-07-29","v":1000},{"g":"h","k":3,"d":"2020-08-17","v":905},
{"g":"h","k":4,"d":"2020-04-20","v":2300},{"g":"h","k":4,"d":"2020-05-10","v":2350},{"g":"h","k":4,"d":"2020-05-30","v":1900},{"g":"h","k":4,"d":"2020-06-29","v":1400},{"g":"h","k":4,"d":"2020-07-29","v":1150},{"g":"h","k":4,"d":"2020-08-17","v":1050},
{"g":"h","k":5,"d":"2020-04-20","v":2900},{"g":"h","k":5,"d":"2020-05-10","v":2750},{"g":"h","k":5,"d":"2020-05-30","v":2450},{"g":"h","k":5,"d":"2020-06-29","v":2350},{"g":"h","k":5,"d":"2020-07-29","v":2650},{"g":"h","k":5,"d":"2020-08-17","v":3000},
{"g":"m","k":1,"d":"2020-04-30","v":2100},{"g":"m","k":1,"d":"2020-05-30","v":5800},{"g":"m","k":1,"d":"2020-06-29","v":9700},{"g":"m","k":1,"d":"2020-07-29","v":13000},{"g":"m","k":1,"d":"2020-08-17","v":15000},
{"g":"m","k":2,"d":"2020-04-30","v":2050},{"g":"m","k":2,"d":"2020-05-30","v":5400},{"g":"m","k":2,"d":"2020-06-29","v":8800},{"g":"m","k":2,"d":"2020-07-29","v":11800},{"g":"m","k":2,"d":"2020-08-17","v":13500},
{"g":"m","k":3,"d":"2020-04-30","v":1650},{"g":"m","k":3,"d":"2020-05-30","v":3500},{"g":"m","k":3,"d":"2020-06-29","v":5950},{"g":"m","k":3,"d":"2020-07-29","v":7800},{"g":"m","k":3,"d":"2020-08-17","v":8300},
{"g":"m","k":4,"d":"2020-04-30","v":1680},{"g":"m","k":4,"d":"2020-05-30","v":3650},{"g":"m","k":4,"d":"2020-06-29","v":6100},{"g":"m","k":4,"d":"2020-07-29","v":8000},{"g":"m","k":4,"d":"2020-08-17","v":8700},
{"g":"m","k":5,"d":"2020-04-30","v":1720},{"g":"m","k":5,"d":"2020-05-30","v":3900},{"g":"m","k":5,"d":"2020-06-29","v":6500},{"g":"m","k":5,"d":"2020-07-29","v":8700},{"g":"m","k":5,"d":"2020-08-17","v":9600}
],
"caObs": [
{"d":"2020-03-04","v":0},{"d":"2020-03-05","v":0},{"d":"2020-03-06","v":0},{"d":"2020-03-07","v":5},{"d":"2020-03-08","v":10},{"d":"2020-03-09","v":15},{"d":"2020-03-10","v":20},{"d":"2020-03-11","v":30},{"d":"2020-03-12","v":40},{"d":"2020-03-13","v":55},{"d":"2020-03-14","v":75},{"d":"2020-03-15","v":100},{"d":"2020-03-16","v":130},{"d":"2020-03-17","v":170},{"d":"2020-03-18","v":215},{"d":"2020-03-19","v":260},{"d":"2020-03-20","v":305},{"d":"2020-03-21","v":360},{"d":"2020-03-22","v":420},{"d":"2020-03-23","v":490},{"d":"2020-03-24","v":560},{"d":"2020-03-25","v":630},{"d":"2020-03-26","v":700},{"d":"2020-03-27","v":760},{"d":"2020-03-28","v":820},{"d":"2020-03-29","v":870},{"d":"2020-03-30","v":920},{"d":"2020-03-31","v":970},
{"d":"2020-04-01","v":1050},{"d":"2020-04-02","v":1130},{"d":"2020-04-03","v":1210},{"d":"2020-04-04","v":1290},{"d":"2020-04-05","v":1370},{"d":"2020-04-06","v":1440},{"d":"2020-04-07","v":1510},{"d":"2020-04-08","v":1570},{"d":"2020-04-09","v":1680},{"d":"2020-04-10","v":1800},{"d":"2020-04-11","v":1950},{"d":"2020-04-12","v":2100},{"d":"2020-04-13","v":2230},{"d":"2020-04-14","v":2350},{"d":"2020-04-15","v":2450},{"d":"2020-04-16","v":2530},{"d":"2020-04-17","v":2600},{"d":"2020-04-18","v":2640},{"d":"2020-04-19","v":2660},{"d":"2020-04-20","v":2665},{"d":"2020-04-21","v":2660},{"d":"2020-04-22","v":2640},{"d":"2020-04-23","v":2600},{"d":"2020-04-24","v":2570},{"d":"2020-04-25","v":2540},{"d":"2020-04-26","v":2520},{"d":"2020-04-27","v":2505},{"d":"2020-04-28","v":2495},{"d":"2020-04-29","v":2490},{"d":"2020-04-30","v":2485},
{"d":"2020-05-01","v":2490},{"d":"2020-05-02","v":2495},{"d":"2020-05-03","v":2500},{"d":"2020-05-04","v":2505},{"d":"2020-05-05","v":2515},{"d":"2020-05-06","v":2530},{"d":"2020-05-07","v":2545},{"d":"2020-05-08","v":2560},{"d":"2020-05-09","v":2575},{"d":"2020-05-10","v":2590},{"d":"2020-05-11","v":2610},{"d":"2020-05-12","v":2625},{"d":"2020-05-13","v":2640},{"d":"2020-05-14","v":2650},{"d":"2020-05-15","v":2640},{"d":"2020-05-16","v":2620},{"d":"2020-05-17","v":2590},{"d":"2020-05-18","v":2560},{"d":"2020-05-19","v":2530},{"d":"2020-05-20","v":2495},{"d":"2020-05-21","v":2460},{"d":"2020-05-22","v":2425},{"d":"2020-05-23","v":2390},
{"d":"2020-03-10","v":1},{"d":"2020-03-11","v":2},{"d":"2020-03-12","v":3},{"d":"2020-03-13","v":4},{"d":"2020-03-14","v":5},{"d":"2020-03-15","v":6},{"d":"2020-03-16","v":8},{"d":"2020-03-17","v":11},{"d":"2020-03-18","v":15},{"d":"2020-03-19","v":19},{"d":"2020-03-20","v":24},{"d":"2020-03-21","v":30},{"d":"2020-03-22","v":38},{"d":"2020-03-23","v":48},{"d":"2020-03-24","v":58},{"d":"2020-03-25","v":68},{"d":"2020-03-26","v":80},{"d":"2020-03-27","v":92},{"d":"2020-03-28","v":102},{"d":"2020-03-29","v":112},{"d":"2020-03-30","v":120},{"d":"2020-03-31","v":130},
{"d":"2020-04-01","v":160},{"d":"2020-04-02","v":195},{"d":"2020-04-03","v":235},{"d":"2020-04-04","v":280},{"d":"2020-04-05","v":330},{"d":"2020-04-06","v":375},{"d":"2020-04-07","v":420},{"d":"2020-04-08","v":465},{"d":"2020-04-09","v":510},{"d":"2020-04-10","v":555},{"d":"2020-04-11","v":600},{"d":"2020-04-12","v":645},{"d":"2020-04-13","v":700},{"d":"2020-04-14","v":755},{"d":"2020-04-15","v":810},{"d":"2020-04-16","v":870},{"d":"2020-04-17","v":930},{"d":"2020-04-18","v":990},{"d":"2020-04-19","v":1055},{"d":"2020-04-20","v":1120},{"d":"2020-04-21","v":1190},{"d":"2020-04-22","v":1265},{"d":"2020-04-23","v":1340},{"d":"2020-04-24","v":1410},{"d":"2020-04-25","v":1480},{"d":"2020-04-26","v":1550},{"d":"2020-04-27","v":1620},{"d":"2020-04-28","v":1690},{"d":"2020-04-29","v":1750},{"d":"2020-04-30","v":1810},
{"d":"2020-05-01","v":1870},{"d":"2020-05-02","v":1930},{"d":"2020-05-03","v":1990},{"d":"2020-05-04","v":2050},{"d":"2020-05-05","v":2130},{"d":"2020-05-06","v":2210},{"d":"2020-05-07","v":2290},{"d":"2020-05-08","v":2370},{"d":"2020-05-09","v":2450},{"d":"2020-05-10","v":2520},{"d":"2020-05-11","v":2590},{"d":"2020-05-12","v":2660},{"d":"2020-05-13","v":2730},{"d":"2020-05-14","v":2800},{"d":"2020-05-15","v":2880},{"d":"2020-05-16","v":2960},{"d":"2020-05-17","v":3050},{"d":"2020-05-18","v":3150},{"d":"2020-05-19","v":3260},{"d":"2020-05-20","v":3370},{"d":"2020-05-21","v":3480},{"d":"2020-05-22","v":3600},{"d":"2020-05-23","v":3740}
],
"nyMean": [
{"s":"ph","d":"2020-02-19","v":0},{"s":"ph","d":"2020-03-10","v":0},{"s":"ph","d":"2020-03-15","v":300},{"s":"ph","d":"2020-03-20","v":1500},{"s":"ph","d":"2020-03-25","v":5200},{"s":"ph","d":"2020-03-31","v":12500},{"s":"ph","d":"2020-04-05","v":17800},{"s":"ph","d":"2020-04-10","v":20300},{"s":"ph","d":"2020-04-15","v":20800},{"s":"ph","d":"2020-04-20","v":20300},{"s":"ph","d":"2020-04-25","v":19000},{"s":"ph","d":"2020-04-30","v":17400},{"s":"ph","d":"2020-05-10","v":14700},{"s":"ph","d":"2020-05-20","v":11900},{"s":"ph","d":"2020-05-30","v":9200},{"s":"ph","d":"2020-06-14","v":6300},{"s":"ph","d":"2020-06-29","v":4200},{"s":"ph","d":"2020-07-14","v":2900},{"s":"ph","d":"2020-07-29","v":2070},{"s":"ph","d":"2020-08-17","v":1290},
{"s":"pd","d":"2020-02-19","v":0},{"s":"pd","d":"2020-03-15","v":0},{"s":"pd","d":"2020-03-20","v":50},{"s":"pd","d":"2020-03-25","v":400},{"s":"pd","d":"2020-03-31","v":2000},{"s":"pd","d":"2020-04-05","v":5000},{"s":"pd","d":"2020-04-10","v":9000},{"s":"pd","d":"2020-04-15","v":13500},{"s":"pd","d":"2020-04-20","v":18000},{"s":"pd","d":"2020-04-25","v":22200},{"s":"pd","d":"2020-04-30","v":26300},{"s":"pd","d":"2020-05-10","v":34200},{"s":"pd","d":"2020-05-20","v":42000},{"s":"pd","d":"2020-05-31","v":50200},
{"s":"h","d":"2020-02-19","v":0},{"s":"h","d":"2020-03-10","v":0},{"s":"h","d":"2020-03-15","v":250},{"s":"h","d":"2020-03-20","v":1300},{"s":"h","d":"2020-03-25","v":4300},{"s":"h","d":"2020-03-31","v":11000},{"s":"h","d":"2020-04-03","v":15000},{"s":"h","d":"2020-04-06","v":17600},{"s":"h","d":"2020-04-09","v":18700},{"s":"h","d":"2020-04-12","v":18200},{"s":"h","d":"2020-04-15","v":16300},{"s":"h","d":"2020-04-20","v":13000},{"s":"h","d":"2020-04-25","v":10000},{"s":"h","d":"2020-04-30","v":7900},{"s":"h","d":"2020-05-05","v":6500},{"s":"h","d":"2020-05-10","v":5400},{"s":"h","d":"2020-05-15","v":4700},{"s":"h","d":"2020-05-22","v":3900},{"s":"h","d":"2020-05-30","v":2900},{"s":"h","d":"2020-06-14","v":2250},{"s":"h","d":"2020-06-29","v":1800},{"s":"h","d":"2020-07-14","v":1350},{"s":"h","d":"2020-07-29","v":970},{"s":"h","d":"2020-08-17","v":650},
{"s":"m","d":"2020-02-19","v":0},{"s":"m","d":"2020-03-15","v":0},{"s":"m","d":"2020-03-20","v":30},{"s":"m","d":"2020-03-25","v":300},{"s":"m","d":"2020-03-31","v":1600},{"s":"m","d":"2020-04-05","v":4500},{"s":"m","d":"2020-04-10","v":8500},{"s":"m","d":"2020-04-15","v":12700},{"s":"m","d":"2020-04-20","v":16700},{"s":"m","d":"2020-04-25","v":19900},{"s":"m","d":"2020-04-30","v":22500},{"s":"m","d":"2020-05-07","v":26000},{"s":"m","d":"2020-05-15","v":29300},{"s":"m","d":"2020-05-22","v":32200},{"s":"m","d":"2020-05-30","v":35000},{"s":"m","d":"2020-06-14","v":37700},{"s":"m","d":"2020-06-29","v":39600},{"s":"m","d":"2020-07-14","v":41300},{"s":"m","d":"2020-07-29","v":42700},{"s":"m","d":"2020-08-17","v":44300}
],
"nyBand": [
{"g":"h","d":"2020-03-15","v":200,"v2":320},{"g":"h","d":"2020-03-20","v":1100,"v2":1600},{"g":"h","d":"2020-03-25","v":3800,"v2":5000},{"g":"h","d":"2020-03-31","v":10000,"v2":12500},{"g":"h","d":"2020-04-05","v":15500,"v2":19500},{"g":"h","d":"2020-04-09","v":17000,"v2":20500},{"g":"h","d":"2020-04-15","v":15000,"v2":18000},{"g":"h","d":"2020-04-20","v":12000,"v2":14500},{"g":"h","d":"2020-04-30","v":7200,"v2":8900},{"g":"h","d":"2020-05-15","v":4200,"v2":5400},{"g":"h","d":"2020-05-30","v":2500,"v2":3500},{"g":"h","d":"2020-06-29","v":1400,"v2":2300},{"g":"h","d":"2020-07-29","v":700,"v2":1400},{"g":"h","d":"2020-08-17","v":450,"v2":1000},
{"g":"m","d":"2020-03-31","v":1400,"v2":1900},{"g":"m","d":"2020-04-10","v":7800,"v2":9500},{"g":"m","d":"2020-04-20","v":15000,"v2":18500},{"g":"m","d":"2020-04-30","v":20800,"v2":26000},{"g":"m","d":"2020-05-15","v":26500,"v2":32500},{"g":"m","d":"2020-05-30","v":31500,"v2":38500},{"g":"m","d":"2020-06-14","v":33500,"v2":42000},{"g":"m","d":"2020-06-29","v":35000,"v2":44200},{"g":"m","d":"2020-07-14","v":36300,"v2":45700},{"g":"m","d":"2020-07-29","v":37300,"v2":46800},{"g":"m","d":"2020-08-17","v":38500,"v2":48000}
],
"nySamp": [
{"g":"h","k":1,"d":"2020-03-25","v":5500},{"g":"h","k":1,"d":"2020-03-31","v":14000},{"g":"h","k":1,"d":"2020-04-05","v":20500},{"g":"h","k":1,"d":"2020-04-08","v":22500},{"g":"h","k":1,"d":"2020-04-15","v":19500},{"g":"h","k":1,"d":"2020-04-20","v":15000},{"g":"h","k":1,"d":"2020-04-30","v":9000},
{"g":"h","k":2,"d":"2020-03-25","v":4800},{"g":"h","k":2,"d":"2020-03-31","v":12800},{"g":"h","k":2,"d":"2020-04-05","v":19200},{"g":"h","k":2,"d":"2020-04-08","v":21300},{"g":"h","k":2,"d":"2020-04-15","v":18500},{"g":"h","k":2,"d":"2020-04-20","v":14600},{"g":"h","k":2,"d":"2020-04-30","v":8800},
{"g":"m","k":1,"d":"2020-04-30","v":27500},{"g":"m","k":1,"d":"2020-05-30","v":39500},{"g":"m","k":1,"d":"2020-06-29","v":45500},{"g":"m","k":1,"d":"2020-07-29","v":48500},{"g":"m","k":1,"d":"2020-08-17","v":49500},
{"g":"m","k":2,"d":"2020-04-30","v":26500},{"g":"m","k":2,"d":"2020-05-30","v":38000},{"g":"m","k":2,"d":"2020-06-29","v":44200},{"g":"m","k":2,"d":"2020-07-29","v":47200},{"g":"m","k":2,"d":"2020-08-17","v":48300},
{"g":"m","k":3,"d":"2020-04-30","v":20500},{"g":"m","k":3,"d":"2020-05-30","v":31000},{"g":"m","k":3,"d":"2020-06-29","v":34800},{"g":"m","k":3,"d":"2020-07-29","v":37200},{"g":"m","k":3,"d":"2020-08-17","v":38000},
{"g":"m","k":4,"d":"2020-04-30","v":21200},{"g":"m","k":4,"d":"2020-05-30","v":32000},{"g":"m","k":4,"d":"2020-06-29","v":36200},{"g":"m","k":4,"d":"2020-07-29","v":38500},{"g":"m","k":4,"d":"2020-08-17","v":39500},
{"g":"m","k":5,"d":"2020-04-30","v":24000},{"g":"m","k":5,"d":"2020-05-30","v":35800},{"g":"m","k":5,"d":"2020-06-29","v":41200},{"g":"m","k":5,"d":"2020-07-29","v":44000},{"g":"m","k":5,"d":"2020-08-17","v":45500}
],
"nyObs": [
{"d":"2020-03-08","v":0},{"d":"2020-03-09","v":20},{"d":"2020-03-10","v":40},{"d":"2020-03-11","v":70},{"d":"2020-03-12","v":100},{"d":"2020-03-13","v":150},{"d":"2020-03-14","v":220},{"d":"2020-03-15","v":320},{"d":"2020-03-16","v":450},{"d":"2020-03-17","v":620},{"d":"2020-03-18","v":830},{"d":"2020-03-19","v":1100},{"d":"2020-03-20","v":1450},{"d":"2020-03-21","v":1900},{"d":"2020-03-22","v":2450},{"d":"2020-03-23","v":3100},{"d":"2020-03-24","v":3800},{"d":"2020-03-25","v":4700},{"d":"2020-03-26","v":5800},{"d":"2020-03-27","v":7000},{"d":"2020-03-28","v":8300},{"d":"2020-03-29","v":9700},{"d":"2020-03-30","v":11000},{"d":"2020-03-31","v":12300},
{"d":"2020-04-01","v":13600},{"d":"2020-04-02","v":15000},{"d":"2020-04-03","v":16300},{"d":"2020-04-04","v":17400},{"d":"2020-04-05","v":18300},{"d":"2020-04-06","v":19000},{"d":"2020-04-07","v":19500},{"d":"2020-04-08","v":19850},{"d":"2020-04-09","v":20000},{"d":"2020-04-10","v":19850},{"d":"2020-04-11","v":19500},{"d":"2020-04-12","v":18900},{"d":"2020-04-13","v":18000},{"d":"2020-04-14","v":17000},{"d":"2020-04-15","v":16100},{"d":"2020-04-16","v":15300},{"d":"2020-04-17","v":14600},{"d":"2020-04-18","v":14000},{"d":"2020-04-19","v":13500},{"d":"2020-04-20","v":13000},{"d":"2020-04-21","v":12500},{"d":"2020-04-22","v":12000},{"d":"2020-04-23","v":11400},{"d":"2020-04-24","v":10800},{"d":"2020-04-25","v":10200},{"d":"2020-04-26","v":9600},{"d":"2020-04-27","v":9000},{"d":"2020-04-28","v":8500},{"d":"2020-04-29","v":8000},{"d":"2020-04-30","v":7700},
{"d":"2020-05-01","v":7450},{"d":"2020-05-02","v":7250},{"d":"2020-05-03","v":7050},{"d":"2020-05-04","v":6850},{"d":"2020-05-05","v":6600},{"d":"2020-05-06","v":6300},{"d":"2020-05-07","v":6000},{"d":"2020-05-08","v":5800},{"d":"2020-05-09","v":5550},{"d":"2020-05-10","v":5350},{"d":"2020-05-11","v":5200},{"d":"2020-05-12","v":5050},{"d":"2020-05-13","v":4900},{"d":"2020-05-14","v":4750},{"d":"2020-05-15","v":4600},{"d":"2020-05-16","v":4450},
{"d":"2020-03-14","v":0},{"d":"2020-03-15","v":10},{"d":"2020-03-16","v":20},{"d":"2020-03-17","v":30},{"d":"2020-03-18","v":45},{"d":"2020-03-19","v":65},{"d":"2020-03-20","v":95},{"d":"2020-03-21","v":130},{"d":"2020-03-22","v":180},{"d":"2020-03-23","v":250},{"d":"2020-03-24","v":330},{"d":"2020-03-25","v":420},{"d":"2020-03-26","v":530},{"d":"2020-03-27","v":680},{"d":"2020-03-28","v":880},{"d":"2020-03-29","v":1150},{"d":"2020-03-30","v":1500},{"d":"2020-03-31","v":1950},
{"d":"2020-04-01","v":2600},{"d":"2020-04-02","v":3300},{"d":"2020-04-03","v":4000},{"d":"2020-04-04","v":4800},{"d":"2020-04-05","v":5600},{"d":"2020-04-06","v":6400},{"d":"2020-04-07","v":7300},{"d":"2020-04-08","v":8200},{"d":"2020-04-09","v":9100},{"d":"2020-04-10","v":10000},{"d":"2020-04-11","v":10900},{"d":"2020-04-12","v":11800},{"d":"2020-04-13","v":12600},{"d":"2020-04-14","v":13400},{"d":"2020-04-15","v":14200},{"d":"2020-04-16","v":14950},{"d":"2020-04-17","v":15700},{"d":"2020-04-18","v":16400},{"d":"2020-04-19","v":17050},{"d":"2020-04-20","v":17700},{"d":"2020-04-21","v":18300},{"d":"2020-04-22","v":18900},{"d":"2020-04-23","v":19450},{"d":"2020-04-24","v":19950},{"d":"2020-04-25","v":20450},{"d":"2020-04-26","v":20950},{"d":"2020-04-27","v":21400},{"d":"2020-04-28","v":21850},{"d":"2020-04-29","v":22300},{"d":"2020-04-30","v":22800},
{"d":"2020-05-01","v":23200},{"d":"2020-05-02","v":23600},{"d":"2020-05-03","v":24000},{"d":"2020-05-04","v":24300},{"d":"2020-05-05","v":24600},{"d":"2020-05-06","v":24900},{"d":"2020-05-07","v":25200},{"d":"2020-05-08","v":25500},{"d":"2020-05-09","v":25800},{"d":"2020-05-10","v":26100},{"d":"2020-05-11","v":26400},{"d":"2020-05-12","v":26750},{"d":"2020-05-13","v":27100},{"d":"2020-05-14","v":27400},{"d":"2020-05-15","v":27700},{"d":"2020-05-16","v":28000}
]
}
}
